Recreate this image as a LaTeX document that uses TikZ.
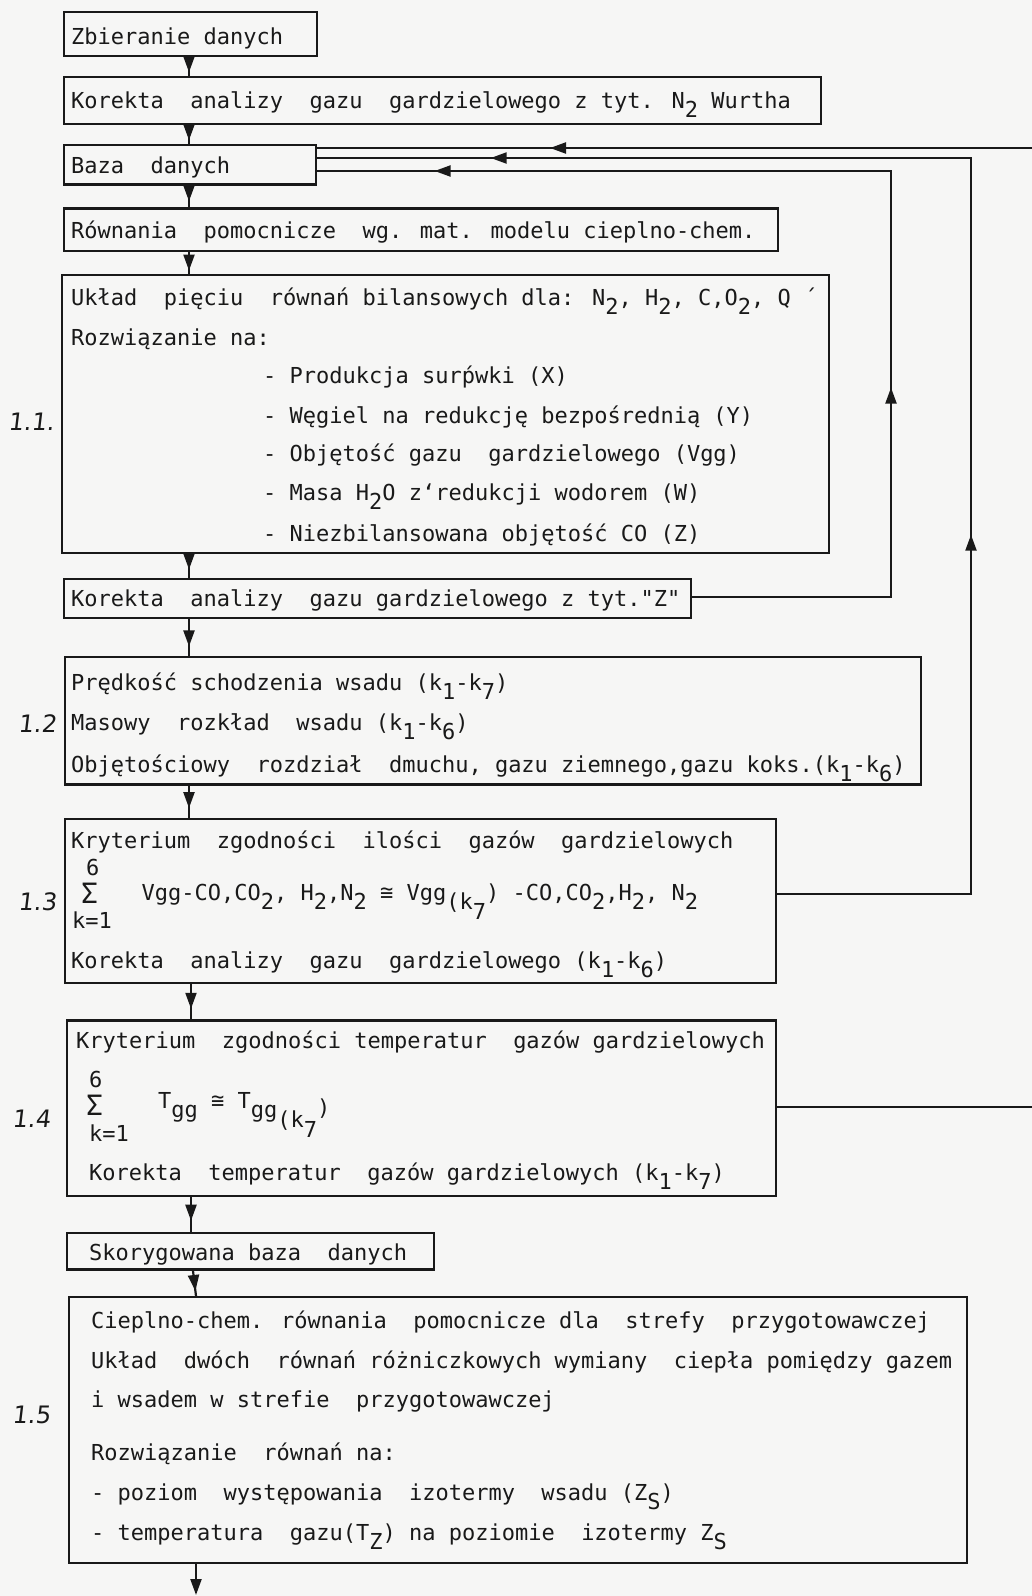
\documentclass[tikz,border=0pt]{standalone}
\usepackage{fontspec}
\setmainfont{DejaVu Sans Mono}
\newfontfamily\twfont{DejaVu Sans Mono}
\newfontfamily\handfont{DejaVu Sans}[FakeSlant=0.12]
\usetikzlibrary{arrows.meta,decorations.markings}
\definecolor{paper}{rgb}{0.965,0.965,0.96}
\definecolor{ink}{rgb}{0.1,0.1,0.1}
\newcommand\dn[1]{\raisebox{-0.45em}{#1}}
\newcommand\bigsig{{\fontsize{28pt}{30pt}\selectfont Σ}}
\newcommand\twsize{\twfont\fontsize{22pt}{26pt}\selectfont}
\newcommand\handsize{\handfont\fontsize{24pt}{28pt}\selectfont}
\tikzset{
  mytip/.tip={Triangle[length=16pt,width=11pt]},
  box/.style={draw=ink, line width=2.4pt, rectangle, inner sep=0pt, anchor=north west},
  txt/.style={anchor=base west, inner sep=0pt, text=ink, font=\twsize},
  lbl/.style={anchor=base west, inner sep=0pt, text=ink, font=\handsize},
  conn/.style={draw=ink, line width=2.2pt},
  midarrow/.style={postaction={decorate, decoration={markings,
      mark=at position #1 with {\arrow[ink]{mytip}}}}},
  twoarrows/.style n args={2}{postaction={decorate, decoration={markings,
      mark=at position #1 with {\arrow[ink]{mytip}},
      mark=at position #2 with {\arrow[ink]{mytip}}}}}
}
\begin{document}
\begin{tikzpicture}[x=1pt,y=-1pt]
\fill[paper] (0,0) rectangle (1032,1596);
\useasboundingbox (0,0) rectangle (1032,1596);

% ---------- boxes ----------
\node[box, minimum width=253.5pt, minimum height=44pt]   (b1)  at (62.5,11) {};
\node[box, minimum width=757pt,   minimum height=46.7pt] (b2)  at (62.5,76) {};
\node[box, minimum width=252pt,   minimum height=39.3pt] (b3)  at (62.5,144) {};
\node[box, minimum width=714.3pt, minimum height=42.7pt] (b4)  at (62.5,207.3) {};
\node[box, minimum width=767pt,   minimum height=277.7pt](b5)  at (60.6,274) {};
\node[box, minimum width=627.5pt, minimum height=39pt]   (b6)  at (62.5,577.7) {};
\node[box, minimum width=855.8pt, minimum height=127.3pt](b7)  at (63.9,656) {};
\node[box, minimum width=711pt,   minimum height=164pt]  (b8)  at (63.9,817.7) {};
\node[box, minimum width=709pt,   minimum height=175.7pt](b9)  at (65.8,1019.3) {};
\node[box, minimum width=367.2pt, minimum height=36.6pt] (b10) at (65.8,1231.7) {};
\node[box, minimum width=898pt,   minimum height=265.7pt](b11) at (67.8,1296) {};

% ---------- texts ----------
\node[txt] (t1) at (71,44) {Zbieranie danych};
\node[txt] (t2) at (71,108) {Korekta~ analizy~ gazu~ gardzielowego z tyt. N\dn{2} Wurtha};
\node[txt] (t3) at (71,173) {Baza~ danych};
\node[txt] (t4) at (71,238) {Równania~ pomocnicze~ wg. mat. modelu cieplno-chem.};

\node[txt] (t5a) at (71,305) {Układ~ pięciu~ równań bilansowych dla: N\dn{2}, H\dn{2}, C,O\dn{2}, Q ´};
\node[txt] (t5b) at (71,345) {Rozwiązanie na:};
\node[txt] (t5c) at (263,383) {- Produkcja surṕwki (X)};
\node[txt] (t5d) at (263,423) {- Węgiel na redukcję bezpośrednią (Y)};
\node[txt] (t5e) at (263,461) {- Objętość gazu~ gardzielowego (Vgg)};
\node[txt] (t5f) at (263,500) {- Masa H\dn{2}O z‘redukcji wodorem (W)};
\node[txt] (t5g) at (263,541) {- Niezbilansowana objętość CO (Z)};

\node[txt] (t6) at (71,606) {Korekta~ analizy~ gazu gardzielowego z tyt."Z"};

\node[txt] (t7a) at (71,690) {Prędkość schodzenia wsadu (k\dn{1}-k\dn{7})};
\node[txt] (t7b) at (71,730) {Masowy~ rozkład~ wsadu (k\dn{1}-k\dn{6})};
\node[txt] (t7c) at (71,772) {Objętościowy~ rozdział~ dmuchu, gazu ziemnego,gazu koks.(k\dn{1}-k\dn{6})};

\node[txt] (t8a) at (71,848) {Kryterium~ zgodności~ ilości~ gazów~ gardzielowych};
\node[txt] (t8s1) at (86,875) {6};
\node[txt] (t8s2) at (81,903) {\bigsig};
\node[txt] (t8s3) at (72,928) {k=1};
\node[txt] (t8f) at (141.5,900) {Vgg-CO,CO\dn{2}, H\dn{2},N\dn{2} ≅ Vgg\dn{(k\dn{7}}) -CO,CO\dn{2},H\dn{2}, N\dn{2}};
\node[txt] (t8b) at (71,968) {Korekta~ analizy~ gazu~ gardzielowego (k\dn{1}-k\dn{6})};

\node[txt] (t9a) at (76,1048) {Kryterium~ zgodności temperatur~ gazów gardzielowych};
\node[txt] (t9s1) at (89,1087) {6};
\node[txt] (t9s2) at (86,1115) {\bigsig};
\node[txt] (t9s3) at (89,1141) {k=1};
\node[txt] (t9f) at (158,1108) {T\dn{gg} ≅ T\dn{gg\dn{(k\dn{7}}}\raisebox{-0.35em}{)}};
\node[txt] (t9b) at (89,1180) {Korekta~ temperatur~ gazów gardzielowych (k\dn{1}-k\dn{7})};

\node[txt] (t10) at (89,1260) {Skorygowana baza~ danych};

\node[txt] (t11a) at (91,1328) {Cieplno-chem. równania~ pomocnicze dla~ strefy~ przygotowawczej};
\node[txt] (t11b) at (91,1368) {Układ~ dwóch~ równań różniczkowych wymiany~ ciepła pomiędzy gazem};
\node[txt] (t11c) at (91,1407) {i wsadem w strefie~ przygotowawczej};
\node[txt] (t11d) at (91,1460) {Rozwiązanie~ równań na:};
\node[txt] (t11e) at (91,1500) {- poziom~ występowania~ izotermy~ wsadu (Z\dn{S})};
\node[txt] (t11f) at (91,1540) {- temperatura~ gazu(T\dn{Z}) na poziomie~ izotermy Z\dn{S}};

% ---------- handwritten labels ----------
\node[lbl] (l11) at (8,430) {1.1.};
\node[lbl] (l12) at (18,732) {1.2};
\node[lbl] (l13) at (18,910) {1.3};
\node[lbl] (l14) at (12,1127) {1.4};
\node[lbl] (l15) at (12,1423) {1.5};

% ---------- coordinates for connectors ----------
\coordinate (ax1) at (189,0);
\coordinate (ax2) at (191,0);
\coordinate (ax3) at (193,0);
\coordinate (ax4) at (196,0);
\coordinate (yA) at (0,148);
\coordinate (yB) at (0,158);
\coordinate (yC) at (0,171);
\coordinate (eA) at (1032,148);
\coordinate (cB1) at (971,894);
\coordinate (cB2) at (971,158);
\coordinate (cC1) at (891,597);
\coordinate (cC2) at (891,171);
\coordinate (eD) at (1032,1107);
\coordinate (yD) at (0,1107);
\coordinate (endF) at (196,1595);

% ---------- downward connectors ----------
\draw[conn, midarrow=0.8]  (b1.south -| ax1) -- (b2.north -| ax1);
\draw[conn, midarrow=0.8]  (b2.south -| ax1) -- (b3.north -| ax1);
\draw[conn, midarrow=0.72] (b3.south -| ax1) -- (b4.north -| ax1);
\draw[conn, midarrow=0.84] (b4.south -| ax1) -- (b5.north -| ax1);
\draw[conn, midarrow=0.65] (b5.south -| ax1) -- (b6.north -| ax1);
\draw[conn, midarrow=0.74] (b6.south -| ax1) -- (b7.north -| ax1);
\draw[conn, midarrow=0.7]  (b7.south -| ax1) -- (b8.north -| ax1);
\draw[conn, midarrow=0.7]  (b8.south -| ax2) -- (b9.north -| ax2);
\draw[conn, midarrow=0.68] (b9.south -| ax2) -- (b10.north -| ax2);
\draw[conn, midarrow=0.8]  (b10.south -| ax3) -- (b11.north -| ax4);
\draw[conn, -{mytip}] (b11.south -| ax4) -- (endF);

% ---------- feedback connectors ----------
\draw[conn, midarrow=482pt] (eA) -- (b3.east |- yA);
\draw[conn, twoarrows={553pt}{1410pt}] (b8.east |- cB1) -- (cB1) -- (cB2) -- (b3.east |- yB);
\draw[conn, twoarrows={408pt}{1081pt}] (b6.east |- cC1) -- (cC1) -- (cC2) -- (b3.east |- yC);
\draw[conn] (b9.east |- yD) -- (eD);
\end{tikzpicture}
\end{document}
